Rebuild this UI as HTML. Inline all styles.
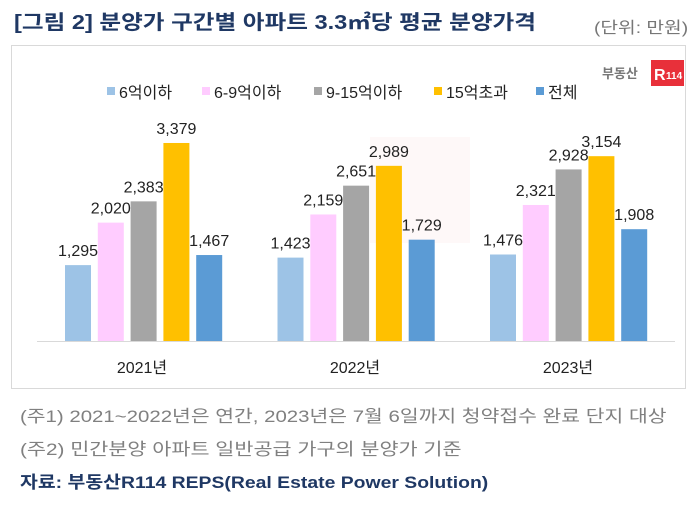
<!DOCTYPE html>
<html><head><meta charset="utf-8"><style>
body{margin:0;width:697px;height:506px;background:#fff;overflow:hidden;font-family:"Liberation Sans","Noto Sans CJK KR",sans-serif;}
.t{position:absolute;white-space:nowrap;transform-origin:0 0}
</style></head><body>
<div class="t" style="left:14px;top:6px;font-size:20px;font-weight:bold;color:#1f3864;transform:scaleX(1.18)">[그림 2] 분양가 구간별 아파트 3.3㎡당 평균 분양가격</div>
<div class="t" style="left:594px;top:14px;font-size:16px;color:#777;transform:scaleX(1.2)">(단위: 만원)</div>
<div style="position:absolute;left:11px;top:45px;width:675px;height:344px;border:1.5px solid #d9d9d9;box-sizing:border-box"></div>
<svg width="697" height="506" style="position:absolute;left:0;top:0" font-family="Liberation Sans, Noto Sans CJK KR, sans-serif">
<rect x="370" y="137" width="100" height="106" fill="#fdf2f2" opacity="0.5"/>
<text x="602" y="78" font-size="13" font-weight="bold" fill="#777">부동산</text>
<rect x="651" y="60" width="33" height="26" fill="#e8303a"/>
<text x="654" y="80" font-size="16" font-weight="bold" fill="#fff">R</text><text x="666" y="79" font-size="10" font-weight="bold" fill="#fff">114</text>
<g font-size="16" fill="#222">
<rect x="107" y="87" width="8" height="8" fill="#9dc3e6"/><text x="119" y="98">6억이하</text>
<rect x="202" y="87" width="8" height="8" fill="#ffccff"/><text x="214" y="98">6-9억이하</text>
<rect x="314" y="87" width="8" height="8" fill="#a5a5a5"/><text x="326" y="98">9-15억이하</text>
<rect x="434" y="87" width="8" height="8" fill="#ffc000"/><text x="446" y="98">15억초과</text>
<rect x="536" y="87" width="8" height="8" fill="#5b9bd5"/><text x="548" y="98">전체</text>
</g>
<line x1="37" y1="341.5" x2="675" y2="341.5" stroke="#d9d9d9" stroke-width="1"/>
<g id="bars"></g>
<g font-size="16" fill="#222" text-anchor="middle">
<text x="142" y="373">2021년</text><text x="355" y="373">2022년</text><text x="568" y="373">2023년</text>
</g>
</svg>
<script>
var d=[[1295,2020,2383,3379,1467],[1423,2159,2651,2989,1729],[1476,2321,2928,3154,1908]];
var c=["#9dc3e6","#ffccff","#a5a5a5","#ffc000","#5b9bd5"];
var s="";
for(var g=0;g<3;g++)for(var i=0;i<5;i++){var v=d[g][i],x=65+g*212.5+i*32.8,h=v*0.0586,y=341-h;
s+='<rect x="'+x+'" y="'+y+'" width="26" height="'+h+'" fill="'+c[i]+'"/>';
s+='<text x="'+(x+13)+'" y="'+(y-9)+'" font-size="16" fill="#222" text-anchor="middle">'+v.toLocaleString("en-US")+'</text>';}
document.getElementById("bars").innerHTML=s;
</script>
<div class="t" style="left:20px;top:402px;font-size:17px;color:#808080;transform:scaleX(1.2)">(주1) 2021~2022년은 연간, 2023년은 7월 6일까지 청약접수 완료 단지 대상</div>
<div class="t" style="left:20px;top:435px;font-size:17px;color:#808080;transform:scaleX(1.22)">(주2) 민간분양 아파트 일반공급 가구의 분양가 기준</div>
<div class="t" style="left:20px;top:468px;font-size:17px;font-weight:bold;color:#1f3864;transform:scaleX(1.14)">자료: 부동산R114 REPS(Real Estate Power Solution)</div>
</body></html>
